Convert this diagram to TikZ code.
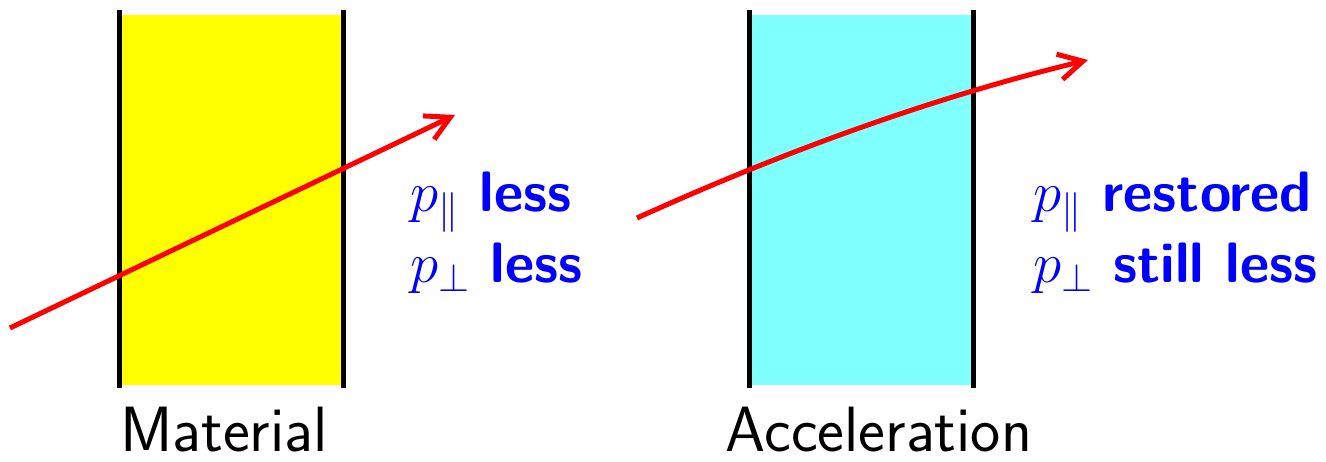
\RequirePackage{fix-cm}
\documentclass[tikz,border=0pt]{standalone}
\usepackage{xcolor}
\usepackage{tikz}
\usetikzlibrary{positioning, arrows.meta, calc}
\definecolor{slabyellow}{HTML}{FFFF00}
\definecolor{slabcyan}{HTML}{80FFFF}
\definecolor{trackred}{HTML}{FF0000}
\definecolor{noteblue}{HTML}{0000FF}

\tikzset{
  slab/.style={draw=none, minimum width=223pt, minimum height=370pt, inner sep=0pt},
  wall/.style={line width=5pt, black},
  track/.style={line width=5pt, trackred, -{Straight Barb[length=24pt, width=26pt]}},
  note/.style={noteblue, font=\fontsize{57}{71}\selectfont\sffamily\bfseries, inner sep=0pt, anchor=base west},
  caption/.style={black, font=\fontsize{64}{76}\selectfont\sffamily, inner sep=0pt, anchor=base}
}

\begin{document}
\begin{tikzpicture}[x=1pt, y=1pt]
  \useasboundingbox (0,0) rectangle (1326,461);

  % slabs
  \node[slab, fill=slabyellow] (mat) at (231.5,261) {};
  \node[slab, fill=slabcyan] (acc) at (861.5,261) {};
  \foreach \s in {mat, acc} {
    \draw[wall] ([yshift=5pt]\s.north west) -- ([yshift=-3pt]\s.south west);
    \draw[wall] ([yshift=5pt]\s.north east) -- ([yshift=-3pt]\s.south east);
  }

  % tracks
  \coordinate (in1) at (10,133);
  \coordinate (out1) at (455,346);
  \draw[track] (in1) -- (out1);
  \coordinate (in2) at (637,243);
  \coordinate (out2) at (1088,401);
  \draw[track] (in2) .. controls (787,311) and (938,365) .. (out2);

  % labels
  \node[caption] (matlabel) at (224,10) {Material};
  \node[caption] (acclabel) at (879,10) {Acceleration};

  \node[note] (lesspar) at (410,249) {$p_\parallel$ less};
  \node[note] (lessperp) at ([yshift=-71pt]lesspar.base west) {$p_\perp$ less};
  \node[note] (restpar) at (1033,249) {$p_\parallel$ restored};
  \node[note] (restperp) at ([yshift=-71pt]restpar.base west) {$p_\perp$ still less};
\end{tikzpicture}
\end{document}
